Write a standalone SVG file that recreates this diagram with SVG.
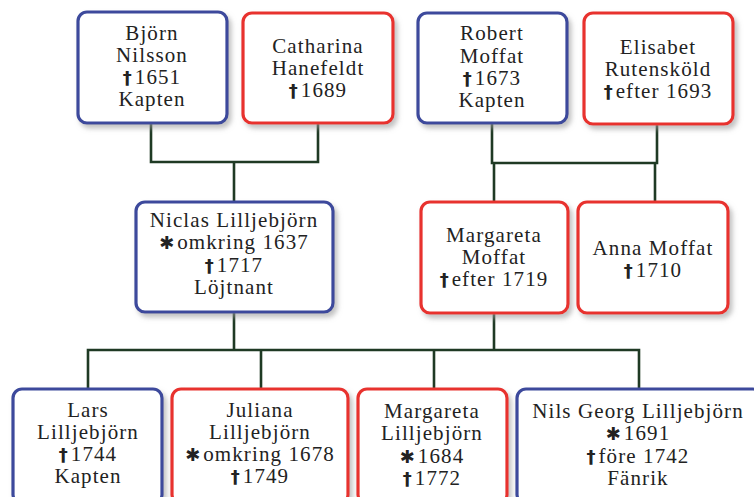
<svg xmlns="http://www.w3.org/2000/svg" width="754" height="497" viewBox="0 0 754 497">
<defs>
<filter id="sh" x="-10%" y="-10%" width="130%" height="130%">
<feDropShadow dx="3" dy="4" stdDeviation="2.5" flood-color="#9a9a9a" flood-opacity="0.6"/>
</filter>
<style>
.m{fill:#fff;stroke:#3c4a9c;stroke-width:3.2;filter:url(#sh)}
.f{fill:#fff;stroke:#e8322f;stroke-width:3.2;filter:url(#sh)}
text{font-family:"Liberation Serif","DejaVu Serif",serif;font-size:21px;letter-spacing:1.1px;fill:#222;text-anchor:middle}
.s{font-family:"DejaVu Sans",sans-serif;font-weight:bold;font-size:18px;letter-spacing:3px}
#connectors path{fill:none;stroke:#1f3a24;stroke-width:2.6}
</style>
</defs>
<rect width="754" height="497" fill="#fff"/>
<g id="connectors">
<path d="M151,123 V162 H318 V123 M234,162 V202"/>
<path d="M492,123 V163 H657 V123 M494,163 V202 M655,163 V202"/>
<path d="M234,312 V350 M494,313 V350 M88,389 V350 H639 V389 M261,350 V389 M434,350 V389"/>
</g>
<g id="bjorn"><rect class="m" x="78" y="12" width="149" height="111" rx="9"/>
<text x="152" y="40">Björn</text><text x="152" y="62">Nilsson</text><text x="152" y="84"><tspan class="s">†</tspan>1651</text><text x="152" y="106">Kapten</text></g>
<g id="catharina"><rect class="f" x="243" y="13" width="150" height="110" rx="9"/>
<text x="318" y="53">Catharina</text><text x="318" y="75">Hanefeldt</text><text x="318" y="97"><tspan class="s">†</tspan>1689</text></g>
<g id="robert"><rect class="m" x="418" y="13" width="149" height="110" rx="9"/>
<text x="492" y="40">Robert</text><text x="492" y="63">Moffat</text><text x="492" y="85"><tspan class="s">†</tspan>1673</text><text x="492" y="107">Kapten</text></g>
<g id="elisabet"><rect class="f" x="584" y="13" width="149" height="111" rx="9"/>
<text x="658" y="54">Elisabet</text><text x="658" y="76">Rutensköld</text><text x="658" y="98"><tspan class="s">†</tspan>efter 1693</text></g>
<g id="niclas"><rect class="m" x="136" y="202" width="197" height="110" rx="9"/>
<text x="234" y="227">Niclas Lilljebjörn</text><text x="234" y="249"><tspan class="s">✱</tspan>omkring 1637</text><text x="234" y="272"><tspan class="s">†</tspan>1717</text><text x="234" y="294">Löjtnant</text></g>
<g id="margareta-moffat"><rect class="f" x="421" y="202" width="147" height="111" rx="9"/>
<text x="494" y="242">Margareta</text><text x="494" y="264">Moffat</text><text x="494" y="286"><tspan class="s">†</tspan>efter 1719</text></g>
<g id="anna"><rect class="f" x="578" y="202" width="150" height="111" rx="9"/>
<text x="653" y="255">Anna Moffat</text><text x="653" y="277"><tspan class="s">†</tspan>1710</text></g>
<g id="lars"><rect class="m" x="13" y="389" width="149" height="115" rx="9"/>
<text x="88" y="417">Lars</text><text x="88" y="439">Lilljebjörn</text><text x="88" y="461"><tspan class="s">†</tspan>1744</text><text x="88" y="483">Kapten</text></g>
<g id="juliana"><rect class="f" x="172" y="389" width="176" height="115" rx="9"/>
<text x="260" y="417">Juliana</text><text x="260" y="439">Lilljebjörn</text><text x="260" y="461"><tspan class="s">✱</tspan>omkring 1678</text><text x="260" y="483"><tspan class="s">†</tspan>1749</text></g>
<g id="margareta-l"><rect class="f" x="358" y="389" width="149" height="115" rx="9"/>
<text x="432" y="418">Margareta</text><text x="432" y="440">Lilljebjörn</text><text x="432" y="463"><tspan class="s">✱</tspan>1684</text><text x="432" y="485"><tspan class="s">†</tspan>1772</text></g>
<g id="nils"><rect class="m" x="517" y="389" width="245" height="115" rx="9"/>
<text x="638" y="418">Nils Georg Lilljebjörn</text><text x="638" y="440"><tspan class="s">✱</tspan>1691</text><text x="638" y="463"><tspan class="s">†</tspan>före 1742</text><text x="638" y="485">Fänrik</text></g>
</svg>
